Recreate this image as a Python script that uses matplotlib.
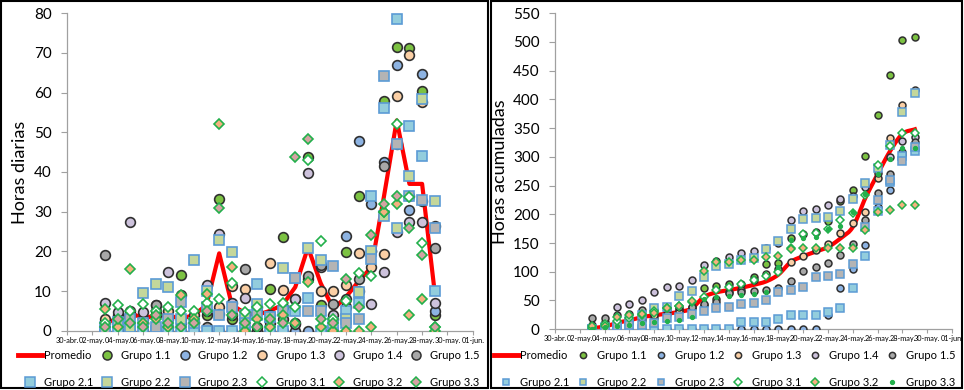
import numpy as np
import matplotlib.pyplot as plt
from matplotlib.lines import Line2D
from matplotlib.patches import Rectangle

plt.rcParams['font.family'] = ['Lato', 'DejaVu Sans']

# dias: 0 = 30-abr.; los datos van del 03-may. (3) al 29-may. (29)
dias = list(range(3, 30))
etiquetas_x = ['30-abr.', '02-may.', '04-may.', '06-may.', '08-may.', '10-may.',
               '12-may.', '14-may.', '16-may.', '18-may.', '20-may.', '22-may.',
               '24-may.', '26-may.', '28-may.', '30-may.', '01-jun.']

# horas diarias
prom_d = [2.5, 2.5, 4.5, 3.1, 3.9, 3.8, 3.1, 3.9, 6.5, 19.5, 6.5, 4.5, 4.0, 5.0,
          6.5, 11, 21, 12, 5.5, 8.5, 12.5, 16, 34, 53, 37, 37, 9.5]
g11_d = [2, 3, 4, 2, 5, 3, 14, 2, 4, 33.3, 3, 4, 0, 10.5, 23.6, 2, 43.7, 6.6, 3,
         19.9, 34, 20, 58, 71.4, 71.3, 60.3, 4]
g12_d = [0, 0, 0, 0, 0, 0, 0, 0, 0, 0, 0, 0, 0, 0, 0, 0, 0, 0, 0,
         23.9, 47.9, 32, 42.4, 66.9, 30.3, 64.7, 5]
g13_d = [3, 4, 5, 3, 4, 5, 3, 4, 5, 6, 11.2, 10.6, 5, 17, 10.3, 8, 13, 10.1, 10.1,
         11.5, 19.5, 16, 19.3, 59.2, 69.6, 57.6, 26.4]
g14_d = [6.9, 4.6, 27.5, 4.6, 6.4, 14.8, 9, 1, 11.5, 24.3, 7, 8.3, 6, 4, 6, 8,
         39.7, 16, 4, 6, 10, 6.7, 14.7, 25, 27.3, 27.3, 7.1]
g15_d = [19.1, 1, 4.1, 2, 6.6, 1, 2, 2.3, 1, 4.2, 4, 15.6, 1, 2, 3, 1.7, 13.8,
         16.6, 6.8, 8, 13.1, 20, 41.4, 47.1, 34, 32.8, 20.8]
g21_d = [0, 0, 0, 0, 0, 0, 0, 0, 0, 0, 0, 0, 11.7, 0, 0, 5, 8.2, 0, 0, 5, 7, 34,
         56, 78.6, 51.5, 44, 10]
g22_d = [1, 2, 1, 9.6, 11.7, 10.9, 3, 17.7, 10, 22.9, 19.8, 4, 6.8, 3.4, 15.7,
         13.2, 20.8, 17.8, 2, 3, 9.8, 20, 28.9, 25.8, 39, 58.5, 32.8]
g23_d = [0, 2.3, 3, 2, 1, 3, 7.3, 2, 6, 4, 6.1, 2, 4, 3.4, 5, 13.2, 4.9, 5, 16.3,
         2, 3, 18, 64.3, 47, 34, 33, 26]
g31_d = [2, 6.6, 5, 6.7, 5, 6, 5, 5, 7, 8, 12, 4.8, 6, 6.8, 7, 6, 42.9, 22.7, 3,
         7.5, 14.6, 13.8, 30, 52, 33.7, 22, 1]
g32_d = [5.4, 1, 15.5, 2, 3, 1, 9, 3, 9.3, 52, 16, 0, 3, 1, 4, 2, 12.4, 1, 0, 0,
         0, 1, 30, 32, 4, 8, 0]
g33_d = [1, 3, 2, 1, 4, 2, 1, 2, 5, 31, 4, 2, 1, 3, 2, 43.8, 48.3, 3, 2, 13, 6,
         24, 32, 34, 26, 19, 1]

# horas acumuladas
prom_c = [1.5, 4.5, 11, 15.5, 21, 24, 27, 30, 36, 56, 64, 68, 72, 77, 83, 95,
          117, 127, 135, 143, 158, 178, 228, 270, 310, 340, 348]
g11_c = [2, 5, 9, 11, 16, 19, 33, 35, 39, 72, 75, 79, 79, 90, 113, 115, 159, 166,
         169, 189, 223, 243, 301, 372, 443, 504, 508]
g12_c = [0, 0, 0, 0, 0, 0, 0, 0, 0, 0, 0, 0, 0, 0, 0, 0, 0, 0, 0,
         24, 72, 104, 146, 213, 243, 308, 313]
g13_c = [3, 7, 12, 15, 19, 24, 27, 31, 36, 42, 53, 64, 69, 86, 96, 104, 117, 127,
         137, 149, 168, 184, 204, 263, 332, 390, 416]
g14_c = [7, 12, 39, 44, 50, 65, 74, 75, 86, 111, 118, 126, 132, 136, 142, 150,
         190, 206, 210, 216, 226, 232, 247, 272, 299, 327, 334]
g15_c = [19, 20, 24, 26, 33, 34, 36, 38, 39, 43, 47, 63, 64, 66, 69, 71, 84, 101,
         108, 116, 129, 149, 190, 237, 271, 304, 325]
g21_c = [0, 0, 0, 0, 0, 0, 0, 0, 0, 0, 0, 0, 12, 12, 12, 17, 25, 25, 25, 30, 37,
         71, 127, 206, 257, 301, 311]
g22_c = [1, 3, 4, 14, 25, 36, 39, 57, 67, 90, 110, 114, 120, 124, 140, 153, 174,
         191, 193, 196, 206, 226, 255, 281, 320, 378, 411]
g23_c = [0, 2, 5, 7, 8, 11, 19, 21, 27, 31, 37, 39, 43, 46, 51, 64, 69, 74, 91,
         93, 96, 114, 178, 225, 259, 292, 318]
g31_c = [2, 9, 14, 20, 25, 31, 36, 41, 48, 56, 68, 73, 79, 86, 93, 99, 142, 165,
         168, 175, 190, 203, 233, 285, 319, 341, 342]
g32_c = [5, 6, 22, 24, 27, 28, 37, 40, 49, 101, 117, 117, 120, 121, 125, 127, 140,
         141, 141, 141, 141, 142, 172, 204, 208, 216, 216]
g33_c = [1, 4, 6, 7, 11, 13, 14, 16, 21, 52, 56, 58, 59, 62, 64, 108, 156, 159,
         161, 174, 180, 204, 236, 270, 296, 315, 316]

grupos = ['Grupo 1.1', 'Grupo 1.2', 'Grupo 1.3', 'Grupo 1.4', 'Grupo 1.5',
          'Grupo 2.1', 'Grupo 2.2', 'Grupo 2.3', 'Grupo 3.1', 'Grupo 3.2', 'Grupo 3.3']
diarias = [g11_d, g12_d, g13_d, g14_d, g15_d, g21_d, g22_d, g23_d, g31_d, g32_d, g33_d]
acumuladas = [g11_c, g12_c, g13_c, g14_c, g15_c, g21_c, g22_c, g23_c, g31_c, g32_c, g33_c]

# estilo de cada grupo: marcador, relleno, borde
circ_borde = '#303030'
cuad_borde = '#5b9bd5'
verde = '#22b04b'
estilos = [
    ('o', '#7cc242', circ_borde),
    ('o', '#8db3e2', circ_borde),
    ('o', '#fbcfa5', circ_borde),
    ('o', '#cdc2dc', circ_borde),
    ('o', '#a8a8a8', circ_borde),
    ('s', '#93cddd', cuad_borde),
    ('s', '#c4d79b', cuad_borde),
    ('s', '#b4b4b4', cuad_borde),
    ('D', 'white', verde),
    ('D', '#f6b080', verde),
    ('D', '#d4a3a3', verde),
]


def suave(x, y, n=12):
    """Linea suavizada (tipo Catmull-Rom) para el promedio acumulado."""
    x = np.asarray(x, float)
    y = np.asarray(y, float)
    px = np.concatenate([[2 * x[0] - x[1]], x, [2 * x[-1] - x[-2]]])
    py = np.concatenate([[2 * y[0] - y[1]], y, [2 * y[-1] - y[-2]]])
    xs, ys = [], []
    t = np.linspace(0, 1, n, endpoint=False)
    for i in range(1, len(px) - 2):
        for p, out in ((px, xs), (py, ys)):
            p0, p1, p2, p3 = p[i - 1], p[i], p[i + 1], p[i + 2]
            out.extend(0.5 * (2 * p1 + (-p0 + p2) * t
                              + (2 * p0 - 5 * p1 + 4 * p2 - p3) * t**2
                              + (-p0 + 3 * p1 - 3 * p2 + p3) * t**3))
    xs.append(x[-1])
    ys.append(y[-1])
    return xs, ys


fig = plt.figure(figsize=(9.64, 3.9), dpi=100)
ax1 = fig.add_axes([0.0695, 0.152, 0.421, 0.814])
ax2 = fig.add_axes([0.5757, 0.156, 0.412, 0.810])

gris = '#a0a0a0'
for ax in (ax1, ax2):
    for s in ('top', 'right'):
        ax.spines[s].set_visible(False)
    for s in ('left', 'bottom'):
        ax.spines[s].set_color(gris)
        ax.spines[s].set_linewidth(0.9)
    ax.set_xlim(0, 32)
    ax.set_xticks(range(0, 33, 2))
    ax.set_xticklabels(etiquetas_x, fontsize=5.3)
    ax.tick_params(axis='x', length=3, color=gris, pad=1.5)
    ax.tick_params(axis='y', length=4, color=gris, labelsize=11, pad=7)

# panel izquierdo: horas diarias
ax1.plot(dias, prom_d, color='red', lw=3, zorder=2)
for vals, (m, fc, ec) in zip(diarias, estilos):
    ms = {'o': 7, 's': 7.5, 'D': 5}[m]
    ax1.plot(dias, vals, ls='none', marker=m, ms=ms, mfc=fc, mec=ec, mew=1.2,
             zorder=3)
ax1.set_ylim(0, 80)
ax1.set_yticks(range(0, 81, 10))
ax1.set_ylabel('Horas diarias', fontsize=13, labelpad=4)

# panel derecho: horas acumuladas
sx, sy = suave(dias, prom_c)
ax2.plot(sx, sy, color='red', lw=3, zorder=2)
for i, (vals, (m, fc, ec)) in enumerate(zip(acumuladas, estilos)):
    ms = {'o': 5, 's': 5.5, 'D': 3.8}[m]
    if i == 10:
        ax2.plot(dias, vals, ls='none', marker='o', ms=2.8, mfc=verde, mec=verde,
                 zorder=3)
    else:
        ax2.plot(dias, vals, ls='none', marker=m, ms=ms, mfc=fc, mec=ec, mew=1.1,
                 zorder=3)
ax2.set_ylim(0, 550)
ax2.set_yticks(range(0, 551, 50))
ax2.set_ylabel('Horas acumuladas', fontsize=13, labelpad=4)


# leyendas, en filas: Promedio + grupos 1.x arriba, grupos 2.x y 3.x abajo
def leyenda(ax_tam, cx):
    mk = {'o': ax_tam[0], 's': ax_tam[1], 'D': ax_tam[2]}
    hs = [Line2D([], [], color='red', lw=3.5)]
    for i, (m, fc, ec) in enumerate(estilos):
        if ax_tam[3] and i == 10:
            hs.append(Line2D([], [], ls='none', marker='o', ms=2.8, mfc=verde,
                             mec=verde))
        else:
            hs.append(Line2D([], [], ls='none', marker=m, ms=mk[m], mfc=fc,
                             mec=ec, mew=1.1))
    labs = ['Promedio'] + grupos
    orden = [0, 6, 1, 7, 2, 8, 3, 9, 4, 10, 5, 11]
    fig.legend([hs[k] for k in orden], [labs[k] for k in orden], ncol=6,
               loc='center', bbox_to_anchor=(cx, 0.054), frameon=False,
               fontsize=8, handlelength=2.2, handletextpad=0.15,
               columnspacing=0.15, labelspacing=1.45, borderpad=0)


leyenda((6.5, 7, 5, False), 0.258)
leyenda((4.5, 5, 4, True), 0.752)

# marcos de cada panel
fig.add_artist(Rectangle((0.001, 0.004), 0.505, 0.993, transform=fig.transFigure,
                         fill=False, ec='black', lw=1.5))
fig.add_artist(Rectangle((0.509, 0.004), 0.489, 0.993, transform=fig.transFigure,
                         fill=False, ec='black', lw=1.5))

fig.savefig('out.png', dpi=100)
